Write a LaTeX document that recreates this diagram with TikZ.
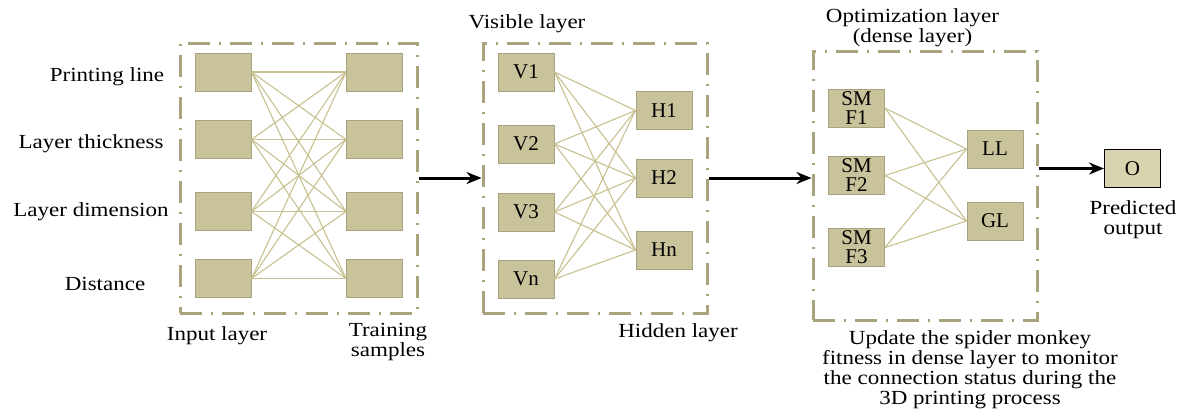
\documentclass[tikz,border=0pt]{standalone}
\usepackage{fontspec}
\setmainfont{Liberation Serif}
\usetikzlibrary{arrows.meta}
\definecolor{nodefill}{HTML}{C9C39B}
\definecolor{nodeline}{HTML}{A8A37E}
\definecolor{framecol}{HTML}{A8A37A}
\definecolor{linkcol}{HTML}{C8C090}
\definecolor{outfill}{HTML}{D9D4B0}
\tikzset{
  unit/.style={draw=nodeline, fill=nodefill, line width=1pt, minimum width=56pt, minimum height=38pt, inner sep=0pt, align=center, font=\fontsize{21}{19}\selectfont},
  frame/.style={draw=framecol, line width=3pt, dash pattern=on 22pt off 9pt on 2pt off 9pt, inner sep=0pt},
  link/.style={draw=linkcol, line width=1.1pt},
  arr/.style={draw=black, line width=3pt, -{Stealth[length=15pt,width=12pt]}},
  lbl/.style={font=\fontsize{20}{20}\selectfont, align=center, inner sep=0pt, xscale=1.15, transform shape},
}
\begin{document}
\begin{tikzpicture}[x=1pt,y=-1pt]
\useasboundingbox (0,0) rectangle (1182,408);
% frames
\node[frame, minimum width=237pt, minimum height=270pt] (b1) at (298.5,178) {};
\node[frame, minimum width=224pt, minimum height=270pt] (b2) at (595,178) {};
\node[frame, minimum width=224pt, minimum height=269pt] (b3) at (925,185.5) {};
% block 1
\node[unit] (i1) at (223,72) {};
\node[unit] (i2) at (223,139.5) {};
\node[unit] (i3) at (223,211.5) {};
\node[unit] (i4) at (223,278.5) {};
\node[unit] (t1) at (374.5,72) {};
\node[unit] (t2) at (374.5,139.5) {};
\node[unit] (t3) at (374.5,211.5) {};
\node[unit] (t4) at (374.5,278.5) {};
\foreach \a in {1,...,4}{\foreach \b in {1,...,4}{\draw[link] (i\a.east) -- (t\b.west);}}
\node[lbl] (l1) at (107,77) {Printing line};
\node[lbl] (l2) at (91,144) {Layer thickness};
\node[lbl] (l3) at (91,212) {Layer dimension};
\node[lbl] (l4) at (105,284) {Distance};
\node[lbl] (inl) at (217,336) {Input layer};
\node[lbl] (trs) at (388,342) {Training\\samples};
% block 2
\node[unit] (v1) at (526,72) {V1};
\node[unit] (v2) at (526,144) {V2};
\node[unit] (v3) at (526,212) {V3};
\node[unit] (v4) at (526,279) {Vn};
\node[unit] (h1) at (664,110.5) {H1};
\node[unit] (h2) at (664,178) {H2};
\node[unit] (h3) at (664,250) {Hn};
\foreach \a in {1,...,4}{\foreach \b in {1,...,3}{\draw[link] (v\a.east) -- (h\b.west);}}
\node[lbl] (vis) at (527,24) {Visible layer};
\node[lbl] (hid) at (678,333) {Hidden layer};
% block 3
\node[unit] (s1) at (856.5,108) {SM\\F1};
\node[unit] (s2) at (856.5,175.5) {SM\\F2};
\node[unit] (s3) at (856.5,247.5) {SM\\F3};
\node[unit] (ll) at (995,149) {LL};
\node[unit] (gl) at (995,221) {GL};
\foreach \a in {1,...,3}{\draw[link] (s\a.east) -- (ll.west); \draw[link] (s\a.east) -- (gl.west);}
\node[lbl] (opt) at (912.5,28) {Optimization layer\\(dense layer)};
\node[unit, draw=black, fill=outfill] (o) at (1132.5,168.5) {O};
\node[lbl] (pred) at (1133,220) {Predicted\\output};
\node[lbl] (upd) at (970,370) {Update the spider monkey\\fitness in dense layer to monitor\\the connection status during the\\3D printing process};
% arrows
\draw[arr] (b1.east) -- (b2.west);
\draw[arr] (b2.east) -- (b2.east -| b3.west);
\draw[arr] (o.west -| b3.east) -- (o.west);
\end{tikzpicture}
\end{document}
